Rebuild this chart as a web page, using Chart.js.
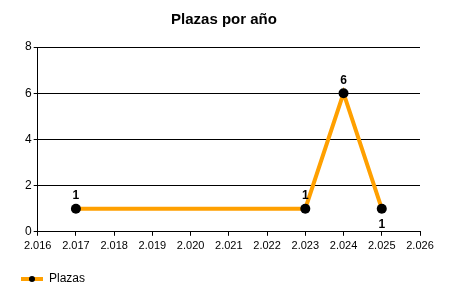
<!DOCTYPE html>
<html>
<head>
<meta charset="utf-8">
<script src="https://cdn.jsdelivr.net/npm/chart.js@4/dist/chart.umd.min.js"></script>
<style>
  html, body { margin: 0; padding: 0; background: #fff; }
  #wrap { width: 450px; height: 300px; }
</style>
</head>
<body>
<div id="wrap"><canvas id="plazasChart"></canvas></div>
<script>
// datos de la grafica
var years = [2017, 2023, 2024, 2025];
var plazas = [1, 1, 6, 1];
var labelBelow = [false, false, false, true]; // la etiqueta del ultimo punto va debajo

// marcador de la leyenda: linea naranja con punto negro
function legendMarker() {
    var c = document.createElement('canvas');
    c.width = 22; c.height = 10;
    var g = c.getContext('2d');
    g.fillStyle = '#FFA000';
    g.fillRect(0, 3, 22, 4);
    g.fillStyle = '#000';
    g.beginPath();
    g.arc(11, 5, 3, 0, Math.PI * 2);
    g.fill();
    return c;
}

// etiquetas de valor sobre los puntos
var valueLabels = {
    id: 'valueLabels',
    afterDatasetsDraw: function (chart) {
        var ctx = chart.ctx;
        var meta = chart.getDatasetMeta(0);
        ctx.save();
        ctx.font = 'bold 12px "Liberation Sans", Arial, sans-serif';
        ctx.fillStyle = '#000';
        ctx.textAlign = 'center';
        meta.data.forEach(function (pt, i) {
            var v = plazas[i];
            if (labelBelow[i]) {
                ctx.textBaseline = 'top';
                ctx.fillText(v, pt.x, pt.y + 10);
            } else {
                ctx.textBaseline = 'bottom';
                ctx.fillText(v, pt.x, pt.y - 7);
            }
        });
        ctx.restore();
    }
};

var points = years.map(function (y, i) { return { x: y, y: plazas[i] }; });

var ctx = document.getElementById('plazasChart').getContext('2d');
new Chart(ctx, {
    type: 'line',
    data: {
        datasets: [{
            label: 'Plazas',
            data: points,
            borderColor: '#FFA000',
            borderWidth: 4,
            pointBackgroundColor: '#000',
            pointBorderColor: '#000',
            pointBorderWidth: 0,
            pointRadius: 5,
            pointHoverRadius: 5,
            tension: 0,
            fill: false
        }]
    },
    options: {
        responsive: true,
        maintainAspectRatio: false,
        animation: false,
        layout: { padding: { left: 5, right: 7, top: 4, bottom: 5 } },
        scales: {
            x: {
                type: 'linear',
                min: 2016,
                max: 2026,
                ticks: {
                    stepSize: 1,
                    color: '#000',
                    font: { family: '"Liberation Sans", Arial, sans-serif', size: 11 },
                    maxRotation: 0,
                    padding: 4,
                    callback: function (v) { return v.toLocaleString('de-DE'); }
                },
                grid: { display: true, drawOnChartArea: false, color: '#000', tickLength: 4 },
                border: { color: '#000', width: 1 }
            },
            y: {
                min: 0,
                max: 8,
                afterFit: function (scale) { scale.width += 18; },
                ticks: {
                    stepSize: 2,
                    color: '#000',
                    font: { family: '"Liberation Sans", Arial, sans-serif', size: 12 },
                    padding: 2
                },
                grid: { color: '#000', tickLength: 4 },
                border: { color: '#000', width: 1 }
            },
            // eje vacio a la derecha para dejar margen sin mover el titulo
            yRight: {
                position: 'right',
                display: true,
                min: 0,
                max: 8,
                grid: { display: false },
                border: { display: false },
                ticks: { display: false },
                afterFit: function (scale) { scale.width = 23; }
            }
        },
        plugins: {
            title: {
                display: true,
                text: 'Plazas por año',
                color: '#000',
                font: { family: '"Liberation Sans", Arial, sans-serif', size: 15, weight: 'bold' },
                padding: { top: 7, bottom: 18 }
            },
            legend: {
                position: 'bottom',
                align: 'start',
                labels: {
                    color: '#000',
                    font: { family: '"Liberation Sans", Arial, sans-serif', size: 12 },
                    usePointStyle: true,
                    pointStyleWidth: 22,
                    padding: 16,
                    generateLabels: function () {
                        return [{ text: 'Plazas', pointStyle: legendMarker(), fontColor: '#000', lineWidth: 0, strokeStyle: 'transparent', fillStyle: 'transparent' }];
                    }
                }
            },
            tooltip: { enabled: false }
        }
    },
    plugins: [valueLabels]
});
</script>
</body>
</html>
